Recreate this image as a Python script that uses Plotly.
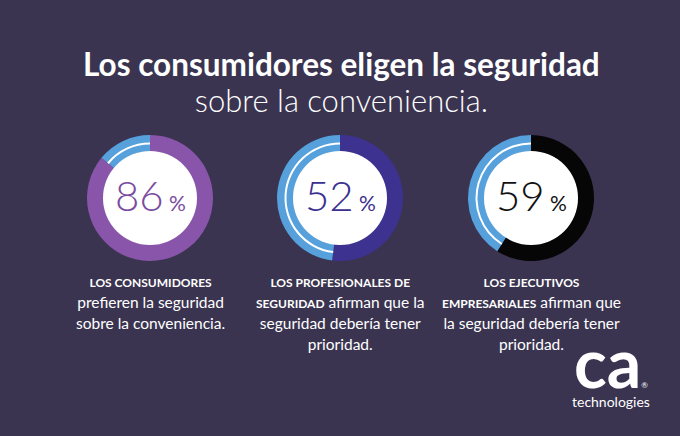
import plotly.graph_objects as go

# Survey results (percent)
groups = ['consumidores', 'profesionales', 'ejecutivos']
percents = [86, 52, 59]
ring_colors = ['#8955aa', '#3e3291', '#060606']
number_colors = ['#7a4b9e', '#3b3090', '#111111']
rest_color = '#56a0dc'

# caption lines: (bold part, regular part)
caption_lines = [
    [('LOS CONSUMIDORES', ''),
     ('', 'prefieren la seguridad'),
     ('', 'sobre la conveniencia.')],
    [('LOS PROFESIONALES DE', ''),
     ('SEGURIDAD', ' afirman que la'),
     ('', 'seguridad debería tener'),
     ('', 'prioridad.')],
    [('LOS EJECUTIVOS', ''),
     ('EMPRESARIALES', ' afirman que'),
     ('', 'la seguridad debería tener'),
     ('', 'prioridad.')],
]
title_bold = 'Los consumidores eligen la seguridad'
title_light = 'sobre la conveniencia.'

W, H = 680, 436
BG = '#3a3450'
FONT = 'Lato'
centers_x = [150, 340, 531]
center_y = 198
R_OUT, R_IN, R_LINE = 63, 46.5, 55.5


def dom(cx, cy, r):
    return dict(x=[(cx - r) / W, (cx + r) / W],
                y=[(H - cy - r) / H, (H - cy + r) / H])


fig = go.Figure()
for i, pct in enumerate(percents):
    cx = centers_x[i]
    # colored ring: value clockwise from top, remainder in blue
    fig.add_trace(go.Pie(
        values=[pct, 100 - pct], labels=['sí', 'no'],
        marker=dict(colors=[ring_colors[i], rest_color], line=dict(width=0)),
        hole=R_IN / R_OUT, sort=False, direction='clockwise', rotation=0,
        textinfo='none', hoverinfo='skip', showlegend=False,
        domain=dom(cx, center_y, R_OUT)))
    # thin white line inside the blue part
    fig.add_trace(go.Pie(
        values=[pct, 100 - pct], labels=['sí', 'no'],
        marker=dict(colors=['rgba(0,0,0,0)', 'white'], line=dict(width=0)),
        hole=(R_LINE - 2) / R_LINE, sort=False, direction='clockwise',
        textinfo='none', hoverinfo='skip', showlegend=False,
        domain=dom(cx, center_y, R_LINE)))
    # white center disk
    fig.add_trace(go.Pie(
        values=[1], labels=['c'],
        marker=dict(colors=['white'], line=dict(width=0)),
        textinfo='none', hoverinfo='skip', showlegend=False,
        domain=dom(cx, center_y, R_IN + 0.5)))

annotations = []
# title: base font sets the line spacing (1.3 * 27.7 = 36 px)
annotations.append(dict(
    x=341 / W, y=1 - 82 / H,
    text=(f"<b><span style='font-size:31.5px'>{title_bold}</span></b><br>"
          f"<span style='font-size:31px;font-weight:300'>{title_light}</span>"),
    font=dict(family=FONT, size=27.7, color='white')))

for i, pct in enumerate(percents):
    annotations.append(dict(
        x=centers_x[i] / W, y=1 - (center_y - 3) / H,
        text=f"{pct}<span style='font-size:21px;font-weight:400'> %</span>",
        font=dict(family=FONT, size=42, color=number_colors[i], weight=300)))
    rows = []
    for bold, reg in caption_lines[i]:
        s = ''
        if bold:
            s += f"<b><span style='font-size:12px'>{bold}</span></b>"
        if reg:
            s += f"<span style='font-size:15.5px'>{reg}</span>"
        rows.append(s)
    n = len(rows)
    annotations.append(dict(
        x=centers_x[i] / W, y=1 - (282 + 21 * (n - 1) / 2) / H,
        text='<br>'.join(rows),
        font=dict(family=FONT, size=16.2, color='white')))

# logo: "ca" + registered mark on one line, "technologies" below
annotations.append(dict(
    x=611 / W, y=1 - 412 / H, yanchor='bottom',
    text=("<b><span style='font-size:68px'>ca</span></b>"
          "<span style='font-size:8px'>®</span><br>"
          "<span style='font-size:14px'>technologies</span>"),
    font=dict(family=FONT, size=14.6, color='white')))

for a in annotations:
    a.setdefault('yanchor', 'middle')
    a.update(xref='paper', yref='paper', showarrow=False, xanchor='center')

fig.update_layout(
    width=W, height=H, margin=dict(l=0, r=0, t=0, b=0),
    paper_bgcolor=BG, plot_bgcolor=BG,
    annotations=annotations, showlegend=False)

fig.write_html("out.html", config={'displayModeBar': False},
               post_script="document.body.style.margin='0';document.body.style.overflow='hidden';")
